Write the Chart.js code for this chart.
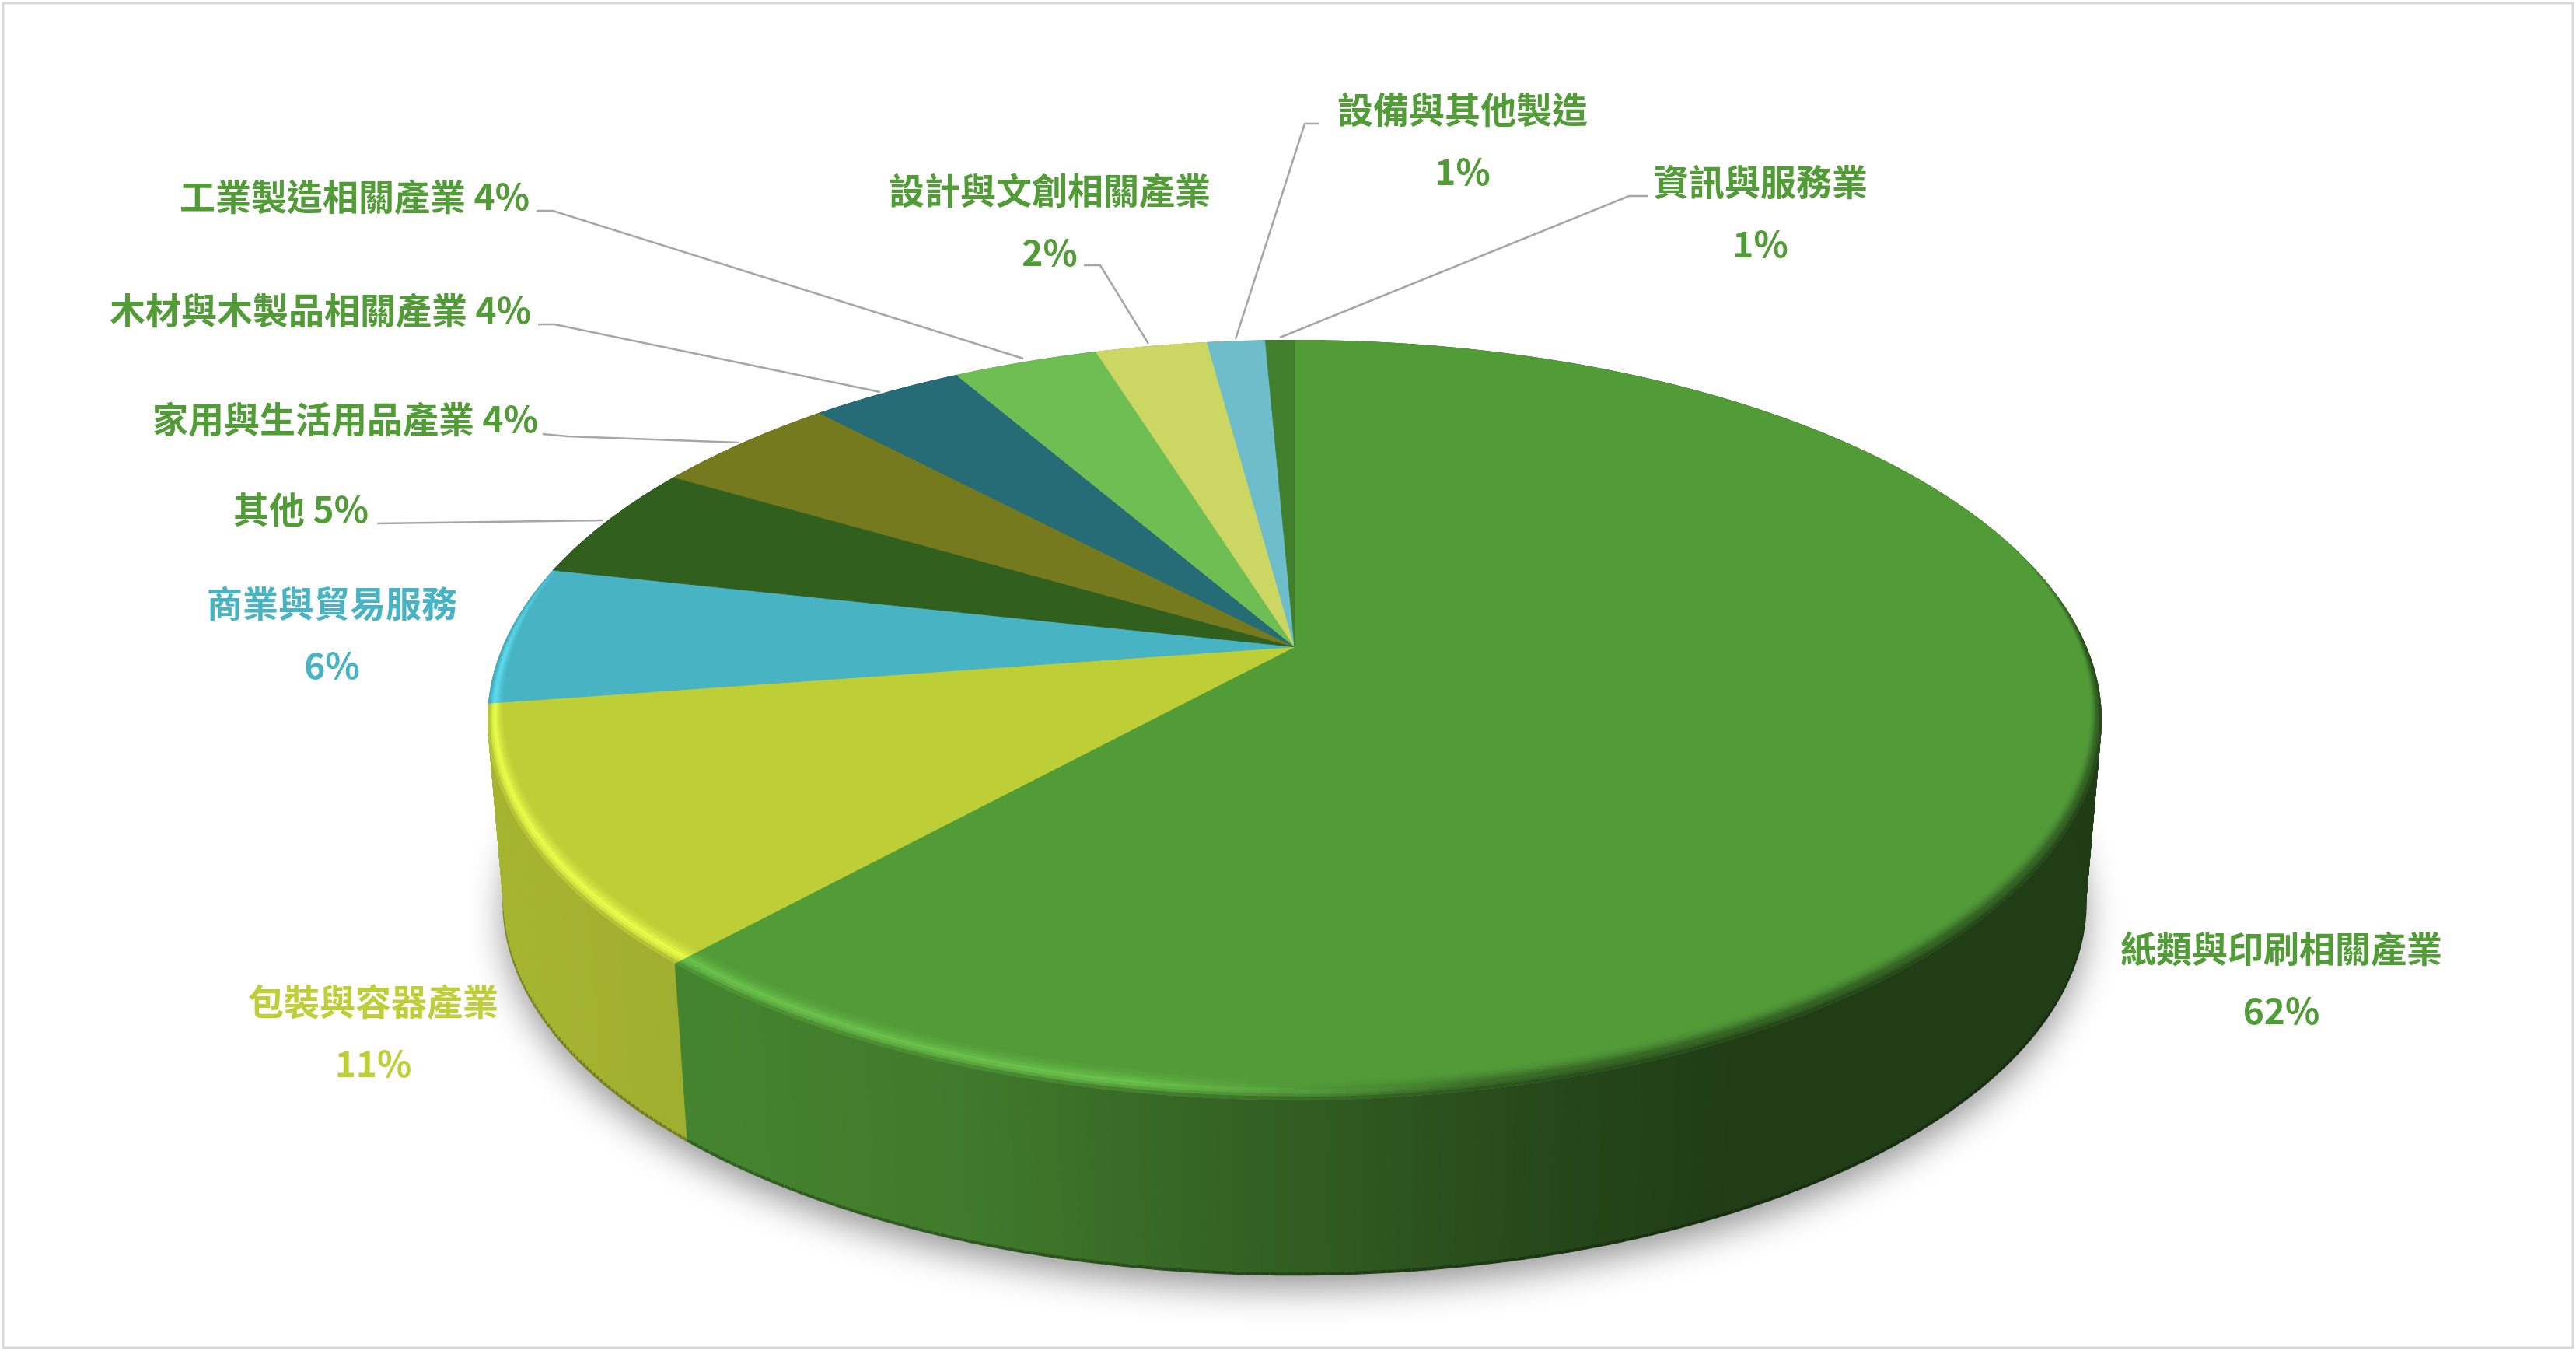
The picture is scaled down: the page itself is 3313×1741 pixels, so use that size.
<!DOCTYPE html>
<html>
<head>
<meta charset="utf-8">
<title>產業分布</title>
<script src="https://cdn.jsdelivr.net/npm/chart.js@4/dist/chart.umd.js"></script>
<style>
    html, body { margin: 0; padding: 0; background: #fff; }
    canvas { display: block; }
</style>
</head>
<body>
<canvas id="chart1" width="3313" height="1741"></canvas>
<script>
// 데이터
const categories = ["紙類與印刷相關產業", "包裝與容器產業", "商業與貿易服務", "其他", "家用與生活用品產業",
    "木材與木製品相關產業", "工業製造相關產業", "設計與文創相關產業", "設備與其他製造", "資訊與服務業"];
const values = [61.7, 10.9, 5.9, 5.0, 4.5, 3.7, 3.5, 2.7, 1.4, 0.7];
const percentLabels = ["62%", "11%", "6%", "5%", "4%", "4%", "4%", "2%", "1%", "1%"];
const sliceColors = ["#529c38", "#bdce37", "#47b3c3", "#305f1e", "#767a1e",
    "#266c76", "#6fbe54", "#cbd762", "#6dbeca", "#417f2c"];

// 라벨 위치 (twoLine: 이름과 퍼센트 두 줄, 아니면 오른쪽 정렬 한 줄)
const labelLayout = [
    { x: 2934, y: 1220, twoLine: true, color: "#529c38" },
    { x: 480, y: 1288, twoLine: true, color: "#bdce37" },
    { x: 427, y: 776, twoLine: true, color: "#47b3c3" },
    { x: 474, y: 655, color: "#529c38" },
    { x: 692, y: 539, color: "#529c38" },
    { x: 683, y: 399, color: "#529c38" },
    { x: 681, y: 253, color: "#529c38" },
    { x: 1350, y: 245, twoLine: true, color: "#529c38" },
    { x: 1881, y: 141, twoLine: true, color: "#529c38" },
    { x: 2264, y: 234, twoLine: true, color: "#529c38" }
];
const lineGap = 80;

// 지시선
const leaderLines = [
    [[485, 673], [776, 669]],
    [[698, 558], [730, 561], [950, 569]],
    [[692, 417], [713, 417], [1132, 504]],
    [[690, 271], [711, 271], [1316, 461]],
    [[1394, 341], [1415, 341], [1477, 442]],
    [[1696, 159], [1678, 159], [1589, 436]],
    [[2120, 252], [2095, 252], [1646, 434]]
];

// 3D 원판 투영값
const view = { cx: 1665, cy: 831.5, a: 1018, k: 470, p: 0.193, shrink: 0.98, depth: 236, left: 628, width: 2074 };

function topPoint(angle, r) {
    const u = Math.cos(angle) * r, v = -Math.sin(angle) * r;
    const w = 1 + view.p * v;
    return { x: view.cx + view.a * u / w, y: view.cy - view.k * v / w };
}

function bottomPoint(angle) {
    const u = Math.cos(angle), v = -Math.sin(angle);
    const w = 1 + view.p * v;
    return {
        x: view.cx + view.shrink * view.a * u / w,
        y: view.cy + view.depth - view.shrink * view.k * v / w
    };
}

function hexToRgb(hex) {
    return [1, 3, 5].map(function(i){ return parseInt(hex.substr(i, 2), 16); });
}

function rgbText(c, f) {
    return "rgb(" + c.map(function(n){ return Math.max(0, Math.min(255, Math.round(n * f))); }).join(",") + ")";
}

function mixRgb(a, b, t) {
    return a.map(function(n, i){ return n + (b[i] - n) * t; });
}

// 옆면 밝기 (왼쪽 밝고 오른쪽 어두움)
function wallShade(x) {
    const t = (x - view.left) / view.width;
    const stops = [[0, 0.88], [0.15, 0.84], [0.3, 0.78], [0.5, 0.6], [0.67, 0.45], [0.78, 0.39], [1, 0.39]];
    for (let i = 1; i < stops.length; i++) {
        if (t <= stops[i][0]) {
            const s = (t - stops[i - 1][0]) / (stops[i][0] - stops[i - 1][0]);
            return stops[i - 1][1] + (stops[i][1] - stops[i - 1][1]) * Math.max(0, s);
        }
    }
    return 0.39;
}

function quad(ctx, a, b, c, d, color) {
    ctx.fillStyle = color;
    ctx.strokeStyle = color;
    ctx.lineWidth = 1;
    ctx.beginPath();
    ctx.moveTo(a.x, a.y);
    ctx.lineTo(b.x, b.y);
    ctx.lineTo(c.x, c.y);
    ctx.lineTo(d.x, d.y);
    ctx.closePath();
    ctx.fill();
    ctx.stroke();
}

function drawShadow(ctx) {
    ctx.save();
    ctx.shadowColor = "rgba(0,0,0,0.42)";
    ctx.shadowBlur = 46;
    ctx.shadowOffsetY = 18;
    ctx.fillStyle = "#cccccc";
    ctx.beginPath();
    for (let d = 0; d < 360; d += 2) {
        const q = bottomPoint(d * Math.PI / 180);
        if (d === 0) ctx.moveTo(q.x, q.y); else ctx.lineTo(q.x, q.y);
    }
    ctx.closePath();
    ctx.fill();
    ctx.restore();
}

// 옆면 조각들을 뒤에서 앞 순서로 그린다
function drawWalls(ctx, arcs) {
    const step = Math.PI / 360;
    const strips = [];
    arcs.forEach(function(arc, i){
        const rgb = hexToRgb(sliceColors[i]);
        for (let s = arc.startAngle; s < arc.endAngle; s += step) {
            const e = Math.min(s + step, arc.endAngle);
            strips.push({ s: s, e: e, rgb: rgb, depth: topPoint((s + e) / 2, 1).y });
        }
    });
    strips.sort(function(a, b){ return a.depth - b.depth; });
    strips.forEach(function(strip){
        const t1 = topPoint(strip.s, 1), t2 = topPoint(strip.e, 1);
        const b1 = bottomPoint(strip.s), b2 = bottomPoint(strip.e);
        const f = wallShade((t1.x + b1.x) / 2);
        quad(ctx, t1, t2, b2, b1, rgbText(strip.rgb, f));
        // 아래쪽 어두운 테두리
        ctx.strokeStyle = rgbText(strip.rgb, f * 0.72);
        ctx.lineWidth = 4;
        ctx.beginPath();
        ctx.moveTo(b1.x, b1.y);
        ctx.lineTo(b2.x, b2.y);
        ctx.stroke();
    });
}

function drawTop(ctx, arc, color) {
    const step = Math.PI / 360;
    ctx.fillStyle = color;
    ctx.strokeStyle = color;
    ctx.lineWidth = 1;
    ctx.beginPath();
    ctx.moveTo(view.cx, view.cy);
    for (let s = arc.startAngle; s < arc.endAngle; s += step) {
        const q = topPoint(s, 1);
        ctx.lineTo(q.x, q.y);
    }
    const q = topPoint(arc.endAngle, 1);
    ctx.lineTo(q.x, q.y);
    ctx.closePath();
    ctx.fill();
    ctx.stroke();
}

// 윗면 가장자리 베벨
function drawBevel(ctx, arc, rgb) {
    const step = Math.PI / 180;
    const rings = 9;
    for (let s = arc.startAngle; s < arc.endAngle; s += step) {
        const e = Math.min(s + step, arc.endAngle);
        const mid = (s + e) / 2;
        const v = -Math.sin(mid);
        const weight = Math.max(0, Math.min(1, (0.3 - v) / 0.3));
        if (weight <= 0) continue;
        const x = topPoint(mid, 1).x;
        const t = (x - view.left) / view.width;
        const wall = rgb.map(function(n){ return n * wallShade(x); });
        // 왼쪽은 밝은 하이라이트, 오른쪽은 없음
        const glow = Math.max(0, Math.min(1, (0.62 - t) / 0.22));
        const light = rgb.map(function(n){ return n * 1.18 + 8; });
        const side = t < 0.5 ? 0.014 : 0.007;
        const width = (side + 0.03 * Math.max(0, -v)) * weight + 0.002;
        for (let i = 0; i < rings; i++) {
            const p1 = i / rings, p2 = (i + 1) / rings;
            const r1 = 1 - width * (1 - p1), r2 = 1 - width * (1 - p2);
            const pm = (p1 + p2) / 2;
            let c;
            if (pm < 0.6) {
                const h = pm / 0.6;
                c = mixRgb(rgb, glow > 0 ? light : rgb, h * h * glow);
                if (glow < 1) c = mixRgb(c, mixRgb(rgb, wall, h * h * 0.55), 1 - glow);
            } else {
                const h = (pm - 0.6) / 0.4;
                const from = glow > 0 ? mixRgb(mixRgb(rgb, wall, 0.55), light, glow) : mixRgb(rgb, wall, 0.55);
                c = mixRgb(from, wall, h * h);
            }
            c = mixRgb(rgb, c, weight);
            quad(ctx, topPoint(s, r1), topPoint(e, r1), topPoint(e, r2), topPoint(s, r2), rgbText(c, 1));
        }
    }
}

const disc3d = {
    id: "disc3d",
    // 차트가 계산한 arc 각도로 3D 원판을 그린다
    beforeDatasetDraw: function(chart, args) {
        const ctx = chart.ctx;
        const arcs = args.meta.data;
        drawShadow(ctx);
        drawWalls(ctx, arcs);
        arcs.forEach(function(arc, i){ drawTop(ctx, arc, sliceColors[i]); });
        arcs.forEach(function(arc, i){ drawBevel(ctx, arc, hexToRgb(sliceColors[i])); });
        return false;
    },
    afterDraw: function(chart) {
        const ctx = chart.ctx;
        ctx.save();

        // 바깥 테두리
        ctx.strokeStyle = "#d9d9d9";
        ctx.lineWidth = 3;
        ctx.strokeRect(4, 4, 3305, 1729);

        // 지시선
        ctx.strokeStyle = "#a6a6a6";
        ctx.lineWidth = 2.5;
        leaderLines.forEach(function(line){
            ctx.beginPath();
            line.forEach(function(pt, i){
                if (i === 0) ctx.moveTo(pt[0], pt[1]); else ctx.lineTo(pt[0], pt[1]);
            });
            ctx.stroke();
        });

        // 라벨
        ctx.font = 'bold 46px "Noto Sans CJK TC"';
        ctx.textBaseline = "middle";
        categories.forEach(function(name, i){
            const pos = labelLayout[i];
            ctx.fillStyle = pos.color;
            if (pos.twoLine) {
                ctx.textAlign = "center";
                ctx.fillText(name, pos.x, pos.y);
                ctx.fillText(percentLabels[i], pos.x, pos.y + lineGap);
            } else {
                ctx.textAlign = "right";
                ctx.fillText(name + " " + percentLabels[i], pos.x, pos.y);
            }
        });
        ctx.restore();
    }
};

new Chart(document.getElementById("chart1"), {
    type: "pie",
    data: {
        labels: categories,
        datasets: [{
            data: values,
            backgroundColor: sliceColors,
            borderWidth: 0
        }]
    },
    options: {
        responsive: false,
        animation: false,
        plugins: {
            legend: { display: false },
            tooltip: { enabled: false }
        }
    },
    plugins: [disc3d]
});
</script>
</body>
</html>
